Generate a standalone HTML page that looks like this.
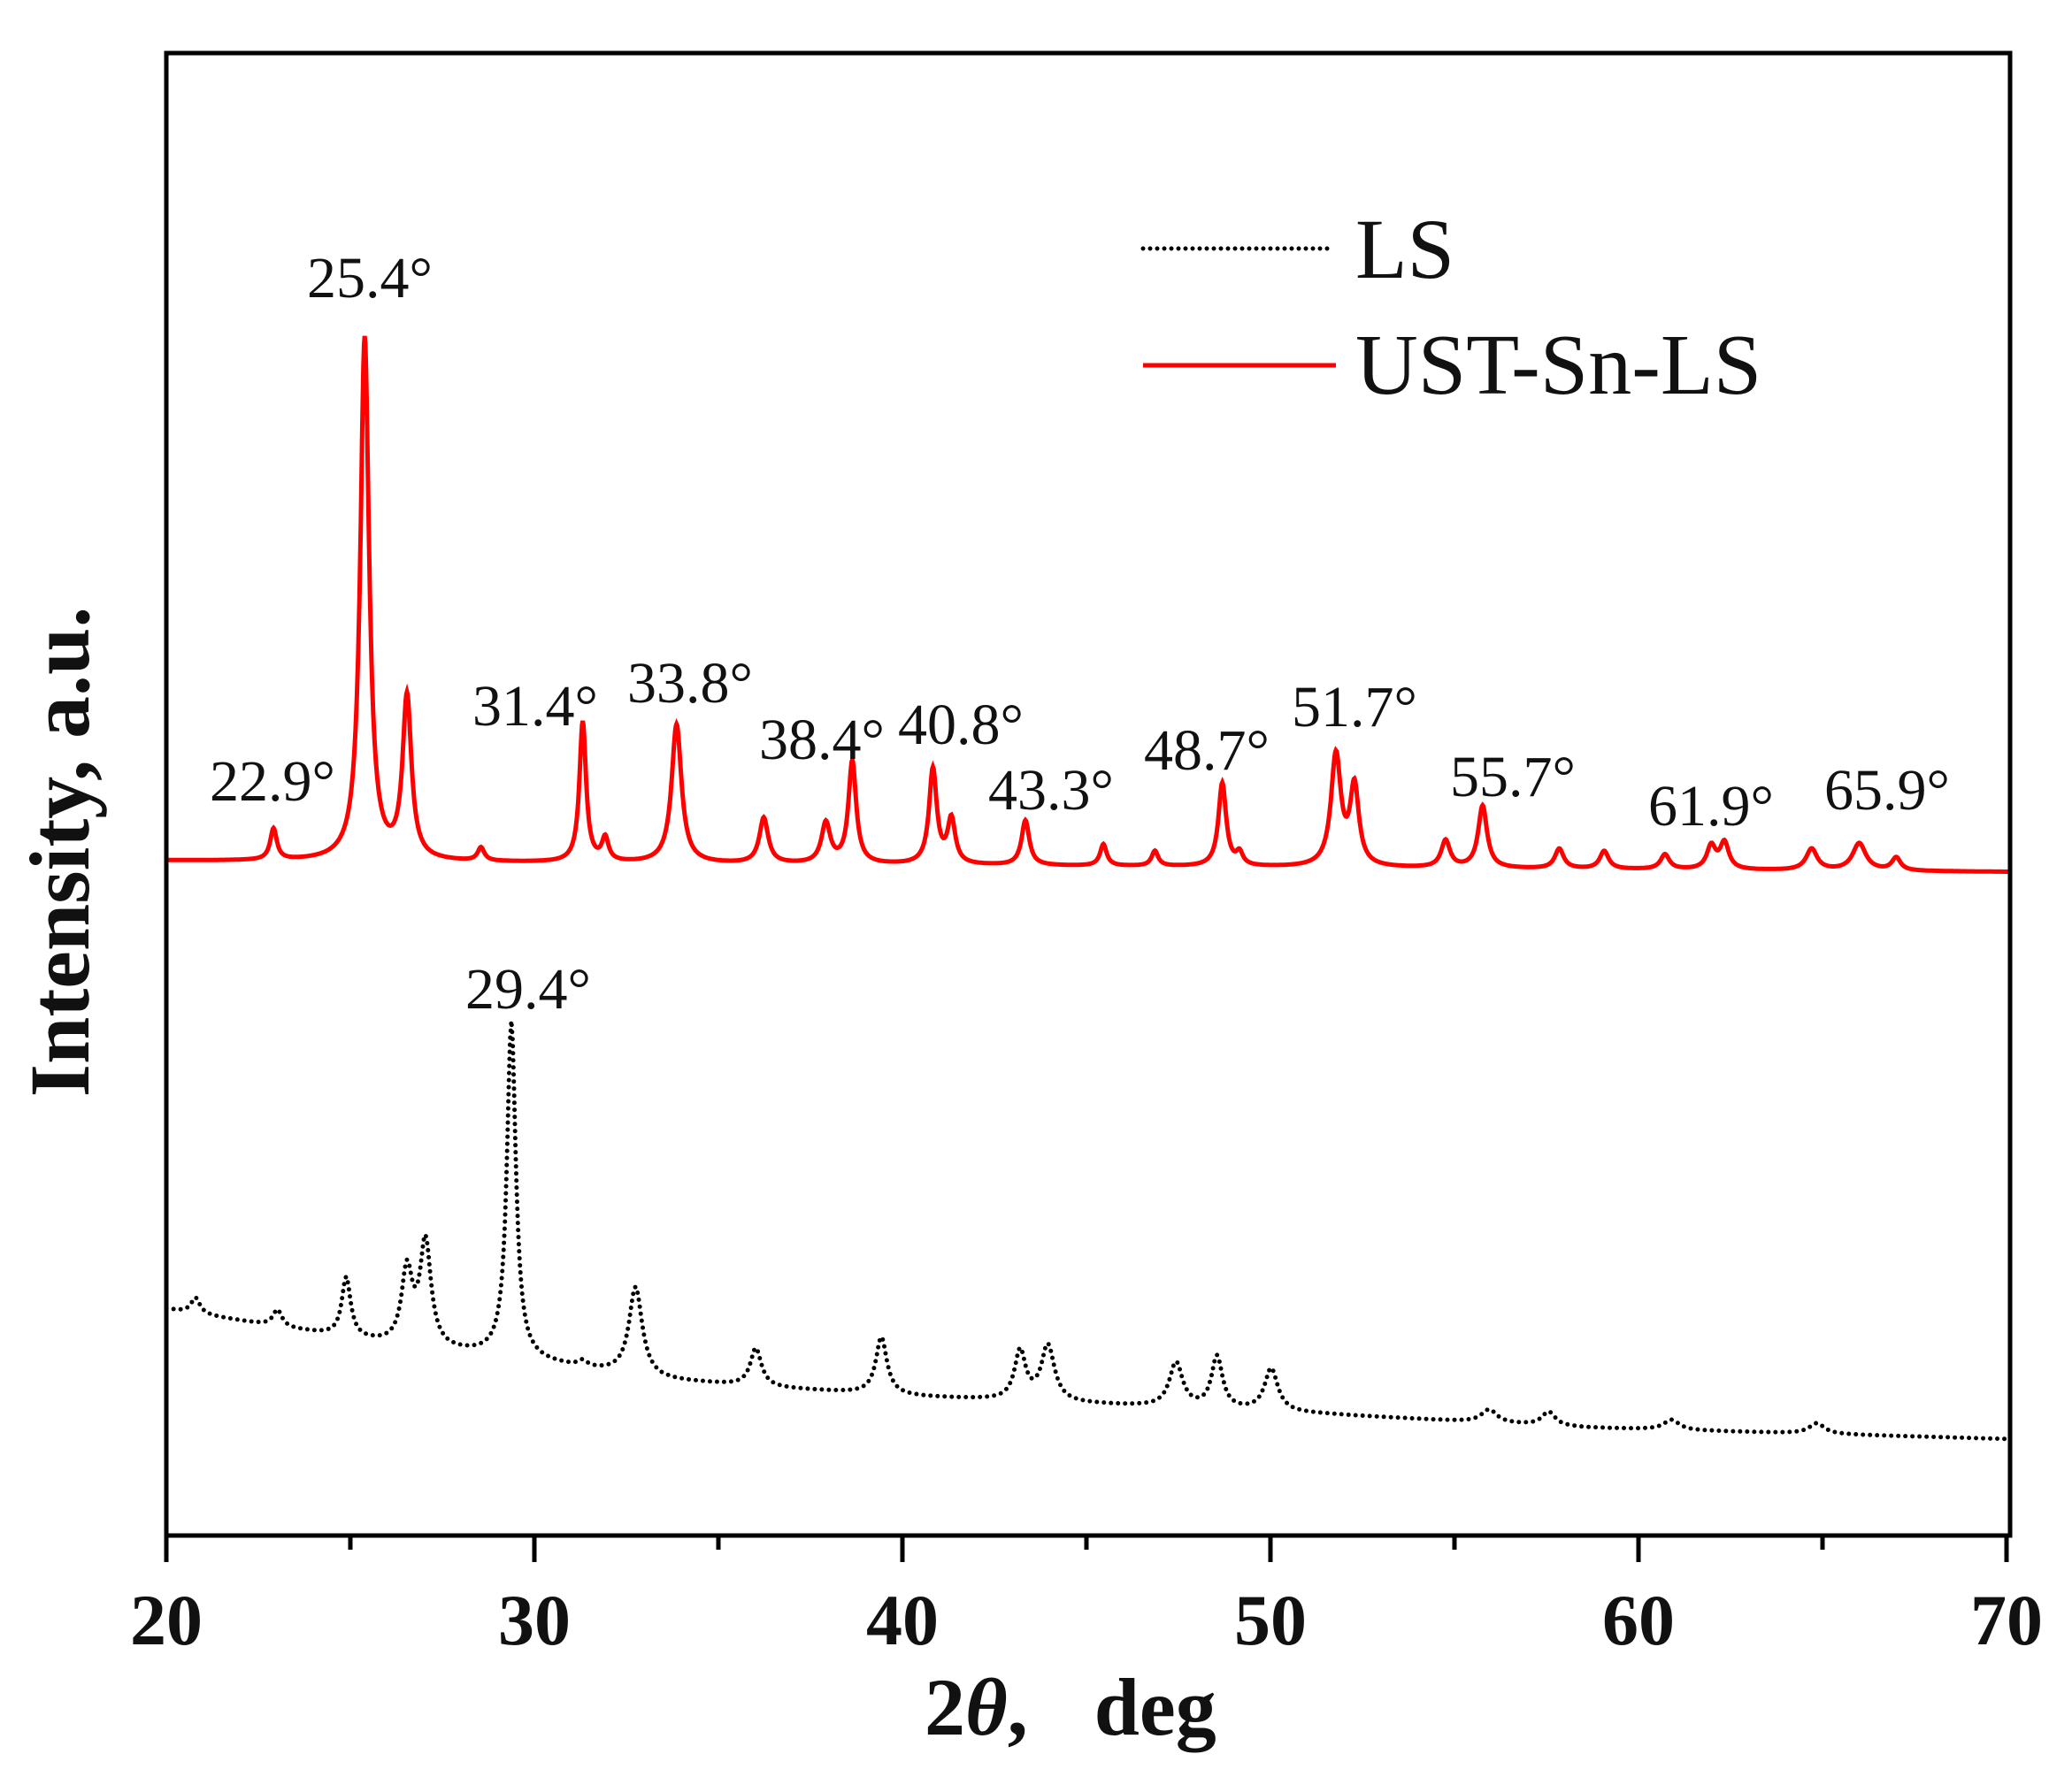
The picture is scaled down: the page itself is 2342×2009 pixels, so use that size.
<!DOCTYPE html>
<html><head><meta charset="utf-8"><style>
html,body{margin:0;padding:0;background:#fff;}
svg{display:block;}
text{font-family:"Liberation Serif",serif;fill:#111;}
</style></head><body>
<svg id="s" width="2342" height="2009" viewBox="0 0 2342 2009" xmlns="http://www.w3.org/2000/svg">
<rect width="2342" height="2009" fill="#fff"/>
<g id="data"></g>
<rect x="188" y="60" width="2084" height="1676" fill="none" stroke="#000" stroke-width="5"/>
<g stroke="#000" stroke-width="5" id="ticks"></g>
<g font-size="82" font-weight="bold" text-anchor="middle">
<text x="188" y="1859">20</text><text x="604" y="1859">30</text><text x="1020" y="1859">40</text>
<text x="1436" y="1859">50</text><text x="1852" y="1859">60</text><text x="2268" y="1859">70</text>
</g>
<text x="1045" y="1961" font-size="92" font-weight="bold">2<tspan font-style="italic">θ</tspan>,<tspan dx="75">deg</tspan></text>
<text transform="translate(100,963) rotate(-90)" font-size="96" font-weight="bold" text-anchor="middle">Intensity, a.u.</text>
<g font-size="66" text-anchor="middle">
<text x="418" y="336">25.4°</text>
<text x="308" y="905">22.9°</text>
<text x="605" y="820">31.4°</text>
<text x="780" y="794">33.8°</text>
<text x="929" y="858">38.4°</text>
<text x="1086" y="841">40.8°</text>
<text x="1188" y="915">43.3°</text>
<text x="1364" y="870">48.7°</text>
<text x="1531" y="821">51.7°</text>
<text x="1710" y="900">55.7°</text>
<text x="1934" y="933">61.9°</text>
<text x="2133" y="915">65.9°</text>
<text x="597" y="1140">29.4°</text>
</g>
<line x1="1292" y1="281" x2="1502" y2="281" stroke="#000" stroke-width="5" stroke-dasharray="0 8" stroke-linecap="round"/>
<text x="1532" y="314" font-size="96">LS</text>
<line x1="1292" y1="413" x2="1510" y2="413" stroke="#f00" stroke-width="5"/>
<text x="1532" y="445" font-size="98">UST-Sn-LS</text>
</svg>
<script>
(function(){
var NS="http://www.w3.org/2000/svg";
var SX=1.4936;
function Y(z){return 59.7+(z-45)*1.2773;}
function X(v){return 188+(v-20)*41.6;}
var tk=document.getElementById('ticks');
for(var v=20;v<=70;v+=5){var l=document.createElementNS(NS,'line');var x=X(v);
l.setAttribute('x1',x);l.setAttribute('x2',x);l.setAttribute('y1',1736);l.setAttribute('y2',v%10==0?1766:1752);tk.appendChild(l);}
function lor(x,c,w){var d=(x-c)/w;return 1/(1+d*d);}
var red=[[207,733,3],[276,298,4],[308,618,4],[364,750,3],[441,638,3],[458,742,3],[512,640,4.5],[578,723,4],[625,728,4],[645,673,3.5],[706,680,3.5],[720,725,3.5],[776,725,3.5],[835,746,3],[874,752,3],[925,692,3.5],[938,755,3],[1011,668,4.5],[1025,697,4],[1094,743,4],[1122,712,4],[1180,750,4],[1214,752,4],[1260,755,4],[1295,748,4],[1305,745,4],[1371,750,5],[1407,745,6],[1435,758,4]];
function rb(x){return 760+(x-126)/1395*10;}
var d='';
for(var x=126;x<=1521;x+=0.5){var y=rb(x);for(var i=0;i<red.length;i++){var p=red[i];y-=(rb(p[0])-p[1])*lor(x,p[0],p[2]);}
d+=(x==126?'M':'L')+(x*SX).toFixed(1)+' '+Y(y).toFixed(1);}
var pr=document.createElementNS(NS,'path');pr.setAttribute('d',d);pr.setAttribute('fill','none');pr.setAttribute('stroke','#f00');pr.setAttribute('stroke-width','5');
var bb=[[126,1157],[300,1190],[380,1200],[500,1220],[600,1228],[700,1235],[800,1240],[1000,1250],[1200,1262],[1521,1272]];
function bl(x){for(var i=0;i<bb.length-1;i++){if(x<=bb[i+1][0]){var t=(x-bb[i][0])/(bb[i+1][0]-bb[i][0]);return bb[i][1]+t*(bb[i+1][1]-bb[i][1]);}}return 1272;}
var blk=[[148,1147,4],[210,1158,4],[262,1130,4],[308,1125,5],[322,1100,5],[387,903,4],[441,1205,4],[481,1138,6],[572,1192,5],[667,1182,5],[772,1195,5],[793,1190,6],[890,1205,6],[921,1200,5],[962,1210,6],[1127,1246,7],[1172,1248,6],[1265,1255,7],[1375,1258,7]];
var d2='';
for(var x=126;x<=1521;x+=1){var y=bl(x);for(var i=0;i<blk.length;i++){var p=blk[i];y-=(bl(p[0])-p[1])*lor(x,p[0],p[2]);}
d2+=(x==126?'M':'L')+(x*SX).toFixed(1)+' '+Y(y).toFixed(1);}
var pb=document.createElementNS(NS,'path');pb.setAttribute('d',d2);pb.setAttribute('fill','none');pb.setAttribute('stroke','#000');pb.setAttribute('stroke-width','5');pb.setAttribute('stroke-dasharray','0 8');pb.setAttribute('stroke-linecap','round');
var g=document.getElementById('data');g.appendChild(pb);g.appendChild(pr);
})();
</script>
</body></html>
